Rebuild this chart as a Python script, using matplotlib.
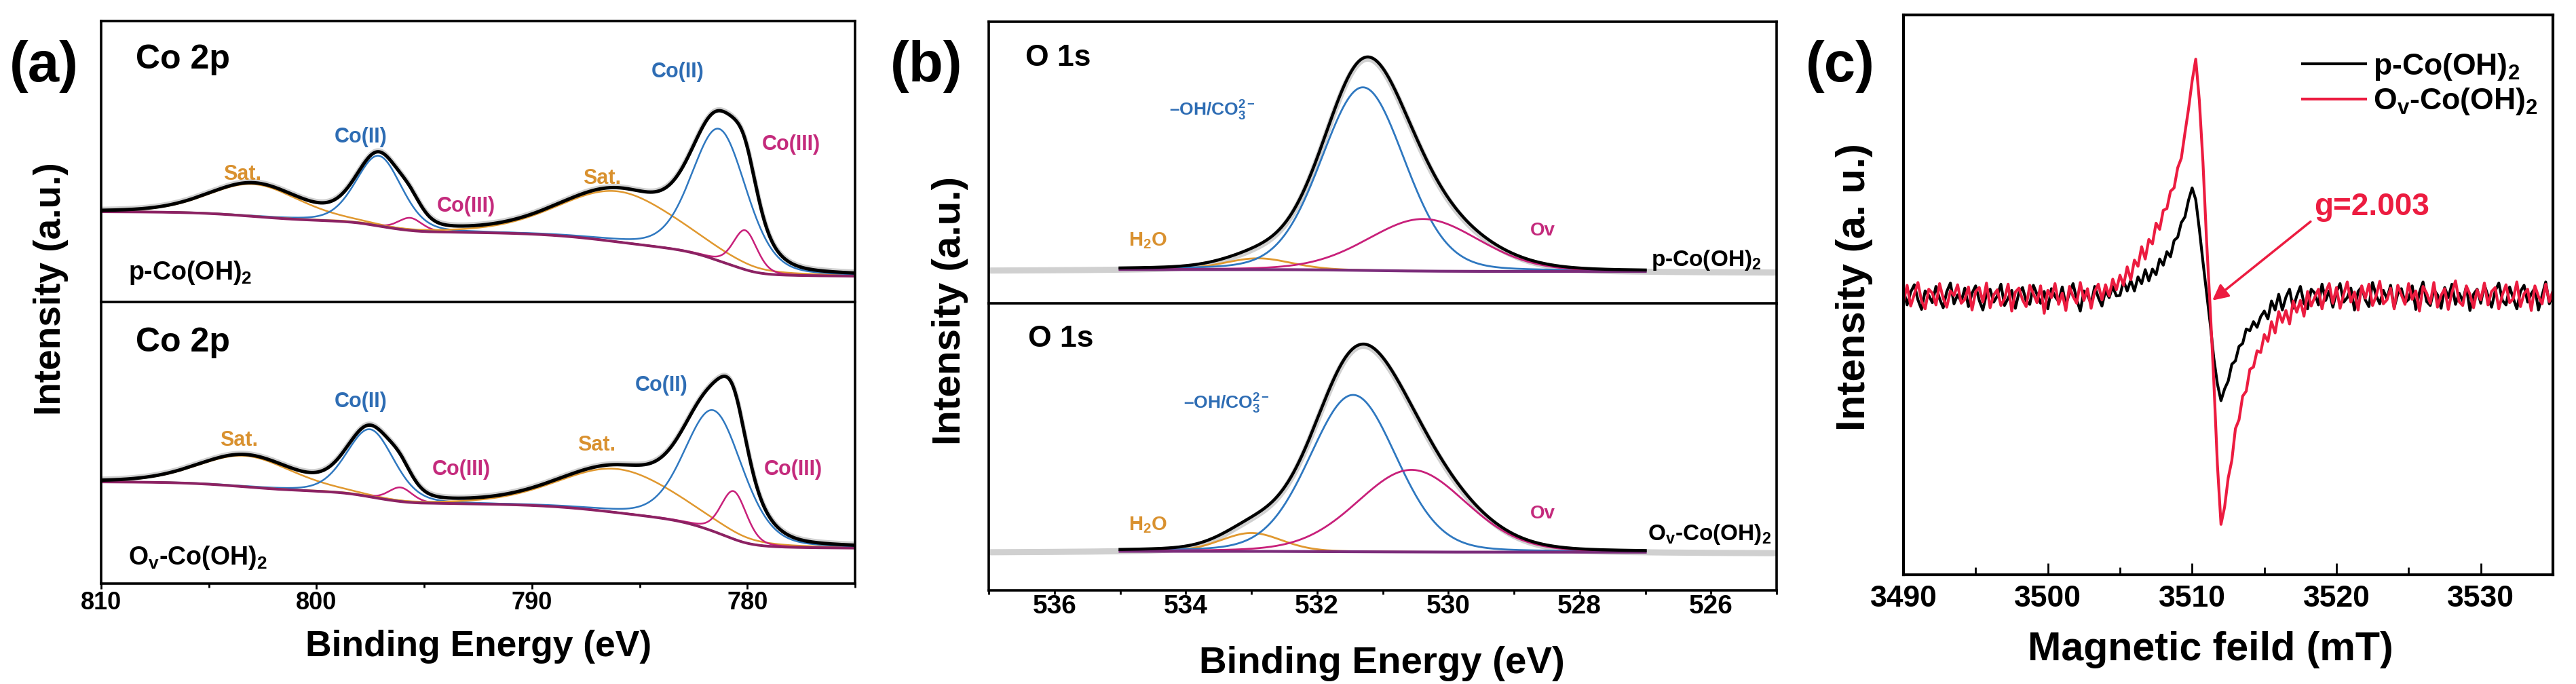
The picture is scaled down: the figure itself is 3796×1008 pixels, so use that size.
import numpy as np
import matplotlib
matplotlib.use('Agg')
import matplotlib.pyplot as plt
from matplotlib.ticker import MultipleLocator

plt.rcParams['font.family'] = ['Liberation Sans', 'DejaVu Sans']
plt.rcParams['mathtext.fontset'] = 'custom'
plt.rcParams['mathtext.rm'] = 'Liberation Sans'
plt.rcParams['mathtext.bf'] = 'Liberation Sans:bold'
plt.rcParams['mathtext.it'] = 'Liberation Sans:italic'

# ------------------------------------------------------------------ data
# Panel (a) Co 2p fit components: centre (eV), height (% of panel), FWHM (eV)
co_kind = ['sat', 'co2', 'co3', 'sat', 'co2', 'co3']
co_center_p = [802.9, 797.1, 795.65, 786.0, 781.3, 780.1]
co_height_p = [11.5, 25.0, 4.5, 18.0, 47.0, 14.0]
co_fwhm_p = [5.0, 2.5, 1.3, 6.5, 3.0, 1.3]
co_bg_p = [9.2, 32.1]          # background level at low / high binding energy

co_center_v = [803.3, 797.5, 796.1, 786.0, 781.55, 780.63]
co_height_v = [11.0, 24.0, 5.0, 15.5, 43.0, 17.0]
co_fwhm_v = [5.2, 2.6, 1.3, 6.5, 3.2, 1.4]
co_bg_v = [12.6, 36.1]

# Panel (b) O 1s fit components: H2O, -OH/CO3, Ov
o_kind = ['h2o', 'oh', 'ov']
o_center_p = [532.9, 531.3, 530.38]
o_height_p = [4.0, 65.0, 18.5]
o_fwhm_p = [1.2, 1.5, 2.0]
o_bg_p = [11.3, 12.0]

o_center_v = [533.0, 531.45, 530.56]
o_height_v = [6.4, 54.6, 28.6]
o_fwhm_v = [1.1, 1.56, 1.96]
o_bg_v = [13.3, 13.6]

# Panel (c) EPR spectra, field 3490-3535 mT, step 0.25 mT
epr_field_start, epr_field_stop, epr_field_step = 3490.0, 3535.0, 0.25
epr_p = [1.2, -1.5, 0.8, 2.1, -0.6, -2.3, 1.0, 0.2, -1.1, 1.8, -0.4, -2.0, 0.9, 2.4, -1.3, 0.3, -0.9, 1.5, -1.8, 0.6,
         1.9, -0.7, -2.4, 0.5, 1.3, -1.0, 0.1, 2.2, -1.6, -0.3, 1.1, -2.1, 0.7, 1.6, -0.8, -1.4, 2.0, 0.4, -1.2, 0.9,
         -2.2, 1.4, 0.0, -0.9, 1.7, -1.5, 0.6, 2.3, -0.5, -2.6, 1.0, 0.3, -1.3, 1.8, -0.2, -1.7, 1.1, -0.2, 1.8, 0.1,
         0.2, 2.8, 1.0, 2.9, 1.0, 3.5, 2.3, 4.8, 2.8, 4.9, 3.9, 6.7, 5.6, 8.0, 7.1, 10.0, 10.6, 13.2, 14.2, 17.2,
         19.4, 17.3, 12.0, 6.2, 0.7, -4.8, -11.0, -15.6, -18.6, -16.5, -15.1, -12.1, -11.5, -8.9, -8.4, -5.8, -6.1, -4.5, -5.5, -3.6,
         -2.6, -4.0, -0.8, -2.4, 0.4, -2.4, -0.1, 1.3, -2.1, 0.1, 1.8, -1.2, -2.2, 1.3, 0.6, -1.5, 2.2, -0.7, 1.0, -1.9,
         0.8, 2.3, -1.0, -0.2, 1.5, -2.4, 0.9, 1.7, -0.6, -1.8, 2.5, 0.2, -1.3, 1.1, -0.4, 2.0, -2.0, 0.5, 1.4, -1.1,
         -0.5, 1.9, -2.3, 0.7, 2.6, -0.9, -1.6, 1.2, 0.3, -2.1, 1.6, -0.2, 2.2, -1.4, 0.6, -0.8, 1.8, -2.5, 0.4, 1.3,
         -1.2, 2.1, 0.1, -1.9, 1.0, 2.4, -0.7, -1.5, 1.7, -0.3, -2.2, 0.9, 2.0, -1.0, 0.5, 1.5, -2.4, 0.2, 2.6, -1.3,
         0.6]
epr_v = [-0.9, 2.0, -1.7, 0.4, 2.5, -0.8, -2.2, 1.3, 0.6, -1.5, 2.3, -0.3, -1.9, 1.0, 0.2, 2.1, -1.2, -0.5, 1.7, -2.4,
         0.9, 1.6, -1.0, 2.4, -2.0, 0.3, 1.2, -1.6, -0.4, 2.2, -2.6, 0.8, 1.5, -0.6, -1.8, 2.0, 0.5, -1.1, 1.9, -3.0,
         1.1, -0.2, 2.3, -1.4, 0.6, -2.5, 1.8, 0.0, -1.2, 2.5, -0.7, 1.4, -2.1, 0.9, 2.2, -0.6, 2.1, 0.1, 3.1, 1.2,
         3.8, 2.0, 5.3, 3.0, 6.5, 5.4, 8.9, 6.7, 10.2, 9.4, 13.1, 12.0, 15.4, 15.7, 18.8, 19.4, 23.0, 24.7, 29.2, 33.5,
         38.5, 42.4, 35.0, 24.0, 10.0, -2.0, -15.0, -30.0, -40.7, -37.6, -32.4, -29.3, -23.6, -22.0, -17.8, -16.9, -13.0, -12.6, -9.7, -10.0,
         -6.8, -8.0, -4.5, -6.5, -2.7, -4.6, -2.5, -4.9, -0.8, -2.8, -0.7, -3.5, 0.9, -1.7, -0.1, 1.3, -2.2, 0.8, 2.3, -1.2,
         1.6, -2.1, 0.4, 2.6, -1.0, 0.8, -2.4, 1.9, -0.3, 2.2, -1.6, 0.1, 2.7, -1.3, -0.6, 1.5, -2.2, 2.0, 0.3, -1.4,
         2.3, -0.5, 1.0, -2.6, 1.8, 0.6, -1.2, 2.5, -1.9, 0.2, 1.4, -2.3, 0.7, 2.8, -0.9, -1.6, 1.9, 0.4, -2.0, 1.2,
         -0.6, 2.4, -1.5, 0.9, 1.6, -2.2, 0.3, 2.1, -1.1, -0.4, 2.6, -1.8, 0.5, 1.3, -2.5, 1.9, 0.0, -1.3, 2.2, -0.9,
         1.0]
epr_labels = ['p-Co(OH)$_\\mathbf{2}$', 'O$_\\mathbf{v}$-Co(OH)$_\\mathbf{2}$']
g_label = 'g=2.003'
g_arrow_tip = (3511.4, -0.7)

a_ticks = [810, 800, 790, 780]
b_ticks = [536, 534, 532, 530, 528, 526]
c_ticks = [3490, 3500, 3510, 3520, 3530]

# ------------------------------------------------------------------ styles
C_BLUE = '#2F78C0'
C_MAG = '#C8207A'
C_ORA = '#E0982F'
C_BG = '#8C2263'
C_GRAY = '#D0D0D0'
C_RED = '#EC1C40'
L_BLUE = '#2E6DB4'
L_MAG = '#C42A7C'
L_ORA = '#D9912F'
SPW = 2.6

W, H = 3796.0, 1008.0


def box(x0, x1, y0, y1):
    return [x0 / W, 1 - y1 / H, (x1 - x0) / W, (y1 - y0) / H]


def pvoigt(x, c, h, w, eta=0.2):
    s = w / 2.3548
    return h * ((1 - eta) * np.exp(-0.5 * ((x - c) / s) ** 2) + eta / (1 + ((x - c) / (w / 2)) ** 2))


def shirley(x, total, lo, hi):
    cum = np.concatenate([[0.0], np.cumsum(0.5 * (total[1:] + total[:-1]) * np.diff(x))])
    return lo + (hi - lo) * cum / cum[-1]


def style_spines(ax, lw=SPW):
    for s in ax.spines.values():
        s.set_linewidth(lw)


fig = plt.figure(figsize=(W / 100, H / 100), dpi=100)


def fit_text(t, target_px, vertical=False):
    fig.canvas.draw()
    bb = t.get_window_extent()
    cur = bb.height if vertical else bb.width
    t.set_fontsize(t.get_fontsize() * target_px / cur)


# ------------------------------------------------------------------ panel (a)
kind_color = {'sat': C_ORA, 'co2': C_BLUE, 'co3': C_MAG}
kind_lcolor = {'sat': L_ORA, 'co2': L_BLUE, 'co3': L_MAG}
kind_text = {'sat': 'Sat.', 'co2': 'Co(II)', 'co3': 'Co(III)'}

ax_a1 = fig.add_axes(box(149, 1260, 31, 445))
ax_a2 = fig.add_axes(box(149, 1260, 445, 860))
Ea = np.linspace(775, 810, 1401)

a_label_pos = [
    [(0.187, 0.454), (0.344, 0.587), (0.484, 0.341), (0.664, 0.440), (0.765, 0.819), (0.915, 0.560)],
    [(0.183, 0.508), (0.344, 0.646), (0.478, 0.405), (0.657, 0.492), (0.743, 0.704), (0.918, 0.405)],
]
for ax, cen, hei, fw, bgl, pos, sample, sy, cy in [
        (ax_a1, co_center_p, co_height_p, co_fwhm_p, co_bg_p, a_label_pos[0], 'p-Co(OH)$_\\mathbf{2}$', 0.104, 0.862),
        (ax_a2, co_center_v, co_height_v, co_fwhm_v, co_bg_v, a_label_pos[1], 'O$_\\mathbf{v}$-Co(OH)$_\\mathbf{2}$', 0.092, 0.855)]:
    comps = [pvoigt(Ea, c, h, w, 0.25) for c, h, w in zip(cen, hei, fw)]
    total = np.sum(comps, axis=0)
    bg = shirley(Ea, total, bgl[0], bgl[1])
    env = bg + total
    ax.plot(Ea, env + 0.5, color=C_GRAY, lw=4.6)
    for comp, k in zip(comps, co_kind):
        ax.plot(Ea, bg + comp, color=kind_color[k], lw=1.8)
    ax.plot(Ea, bg, color=C_BG, lw=2.8)
    ax.plot(Ea, env, color='black', lw=3.6)
    for (px, py), k in zip(pos, co_kind):
        ax.text(px, py, kind_text[k], transform=ax.transAxes, ha='center', va='center',
                fontsize=22, fontweight='bold', color=kind_lcolor[k])
    ax.text(0.046, cy, 'Co 2p', transform=ax.transAxes, ha='left', va='center',
            fontsize=36, fontweight='bold')
    ax.text(0.036, sy, sample, transform=ax.transAxes, ha='left', va='center',
            fontsize=27, fontweight='bold')
    ax.set_xlim(810, 775)
    ax.set_ylim(0, 100)
    ax.set_yticks([])
    style_spines(ax)

ax_a1.set_xticks([])
ax_a1.spines['bottom'].set_visible(False)
ax_a2.set_xticks(a_ticks)
ax_a2.xaxis.set_minor_locator(MultipleLocator(5))
ax_a2.tick_params(axis='x', which='major', direction='out', length=6, width=2, labelsize=26, pad=2)
ax_a2.tick_params(axis='x', which='minor', direction='out', length=4, width=2)
for lab in ax_a2.get_xticklabels():
    lab.set_fontweight('bold')
xl_a = ax_a2.set_xlabel('Binding Energy (eV)', fontsize=34, fontweight='bold', va='center')
ax_a2.xaxis.set_label_coords(0.5005, -0.224)

# ------------------------------------------------------------------ panel (b)
o_color = {'h2o': C_ORA, 'oh': C_BLUE, 'ov': C_MAG}
ax_b1 = fig.add_axes(box(1457, 2618, 32, 447))
ax_b2 = fig.add_axes(box(1457, 2618, 447, 870))
Eb = np.linspace(525, 537, 1201)
fit_mask = (Eb >= 527) & (Eb <= 535)

b_text = [
    dict(o1s=(0.0465, 0.872), oh=(0.284, 0.684), h2o=(0.202, 0.222), ov=(0.703, 0.258),
         sample=('p-Co(OH)$_\\mathbf{2}$', 0.981, 0.154, 'right')),
    dict(o1s=(0.05, 0.875), oh=(0.302, 0.650), h2o=(0.202, 0.227), ov=(0.703, 0.267),
         sample=('O$_\\mathbf{v}$-Co(OH)$_\\mathbf{2}$', 0.836, 0.194, 'left')),
]
for ax, cen, hei, fw, bgl, tx in [(ax_b1, o_center_p, o_height_p, o_fwhm_p, o_bg_p, b_text[0]),
                                  (ax_b2, o_center_v, o_height_v, o_fwhm_v, o_bg_v, b_text[1])]:
    comps = [pvoigt(Eb, c, h, w, 0.15) for c, h, w in zip(cen, hei, fw)]
    total = np.sum(comps, axis=0)
    bg = shirley(Eb, total, bgl[0], bgl[1])
    env = bg + total
    ax.plot(Eb, env - 0.6, color=C_GRAY, lw=6.5)
    x = Eb[fit_mask]
    for comp, k in zip(comps, o_kind):
        ax.plot(x, (bg + comp)[fit_mask], color=o_color[k], lw=2.0)
    ax.plot(x, bg[fit_mask], color='#7B2D7B', lw=3.0)
    ax.plot(x, env[fit_mask], color='black', lw=3.2)
    ax.text(*tx['o1s'], 'O 1s', transform=ax.transAxes, ha='left', va='center',
            fontsize=32, fontweight='bold')
    ax.text(*tx['oh'], '–OH/CO$_\\mathbf{3}^\\mathbf{2-}$', transform=ax.transAxes, ha='center',
            va='center', fontsize=19, fontweight='bold', color=L_BLUE)
    ax.text(*tx['h2o'], 'H$_\\mathbf{2}$O', transform=ax.transAxes, ha='center', va='center',
            fontsize=21, fontweight='bold', color=L_ORA)
    ax.text(*tx['ov'], 'Ov', transform=ax.transAxes, ha='center', va='center',
            fontsize=20, fontweight='bold', color=L_MAG)
    s, sx, sy, sha = tx['sample']
    ax.text(sx, sy, s, transform=ax.transAxes, ha=sha, va='center', fontsize=24, fontweight='bold')
    ax.set_xlim(537, 525)
    ax.set_ylim(0, 100)
    ax.set_yticks([])
    style_spines(ax)

ax_b1.set_xticks([])
ax_b1.spines['bottom'].set_visible(False)
ax_b2.set_xticks(b_ticks)
ax_b2.xaxis.set_minor_locator(MultipleLocator(1))
ax_b2.tick_params(axis='x', which='major', direction='out', length=4, width=2, labelsize=28, pad=0.5)
ax_b2.tick_params(axis='x', which='minor', direction='out', length=4, width=2)
for lab in ax_b2.get_xticklabels():
    lab.set_fontweight('bold')
xl_b = ax_b2.set_xlabel('Binding Energy (eV)', fontsize=36, fontweight='bold', va='center')
ax_b2.xaxis.set_label_coords(0.4987, -0.255)

# ------------------------------------------------------------------ panel (c)
ax_c = fig.add_axes(box(2805, 3762, 22, 847))
field = np.arange(epr_field_start, epr_field_stop + 1e-9, epr_field_step)
lp, = ax_c.plot(field, epr_p, color='black', lw=3.0, label=epr_labels[0])
lv, = ax_c.plot(field, epr_v, color=C_RED, lw=3.0, label=epr_labels[1])
ax_c.set_xlim(3490, 3535)
ax_c.set_ylim(-49.7, 50.3)
ax_c.set_yticks([])
ax_c.set_xticks(c_ticks)
ax_c.xaxis.set_minor_locator(MultipleLocator(5))
ax_c.tick_params(axis='x', which='major', direction='in', length=12, width=2, labelsize=32, pad=10.5)
ax_c.tick_params(axis='x', which='minor', direction='in', length=8, width=2)
for lab in ax_c.get_xticklabels():
    lab.set_fontweight('bold')
xl_c = ax_c.set_xlabel('Magnetic feild (mT)', fontsize=40, fontweight='bold', va='center')
ax_c.xaxis.set_label_coords(0.4723, -0.1345)
style_spines(ax_c, 3.0)
ax_c.legend(handles=[lp, lv], loc='upper left', bbox_to_anchor=(0.614, 0.935), frameon=False,
            prop={'size': 32, 'weight': 'bold'}, handlelength=2.1, handletextpad=0.25,
            labelspacing=0.15, borderpad=0, borderaxespad=0)
ax_c.annotate(g_label, xy=g_arrow_tip, xytext=(0.632, 0.657), textcoords='axes fraction',
              ha='left', va='center', fontsize=33, fontweight='bold', color=C_RED,
              arrowprops=dict(arrowstyle='-|>', color=C_RED, lw=2.5, mutation_scale=35,
                              relpos=(0.0, 0.1), shrinkA=2, shrinkB=0))

# ------------------------------------------------------------------ y labels and panel tags
yl_a = fig.text(75 / W, 1 - 426 / H, 'Intensity (a.u.)', rotation=90, ha='center', va='center',
                fontsize=38, fontweight='bold')
yl_b = fig.text(1400 / W, 1 - 458 / H, 'Intensity (a.u.)', rotation=90, ha='center', va='center',
                fontsize=38, fontweight='bold')
yl_c = fig.text(2732 / W, 1 - 423 / H, 'Intensity (a. u.)', rotation=90, ha='center', va='center',
                fontsize=42, fontweight='bold')
for tag, xc in [('(a)', 65), ('(b)', 1365), ('(c)', 2712)]:
    fig.text(xc / W, 1 - 98 / H, tag, ha='center', va='center', fontsize=60, fontweight='bold')

# size the axis titles to the extents measured on the reference
fit_text(yl_a, 372, vertical=True)
fit_text(yl_b, 395, vertical=True)
fit_text(yl_c, 424, vertical=True)
fit_text(xl_a, 511)
fit_text(xl_b, 539)
fit_text(xl_c, 538)

fig.savefig('out.png', dpi=100, facecolor='white')
